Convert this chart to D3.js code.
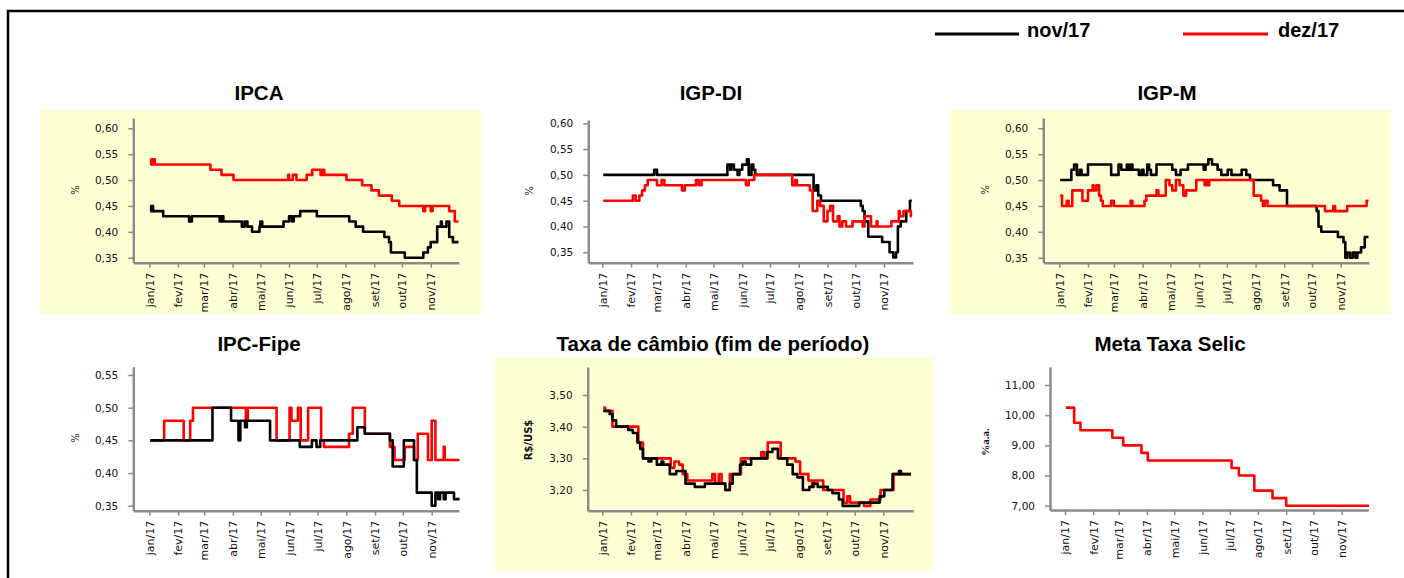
<!DOCTYPE html>
<html><head><meta charset="utf-8">
<script src="https://cdn.jsdelivr.net/npm/d3@7"></script>
<style>
body{margin:0;background:#fff;}
svg{display:block;}
.title{font-family:"Liberation Sans",Arial,sans-serif;font-weight:bold;font-size:20.5px;fill:#000;}
.leg{font-family:"Liberation Sans",Arial,sans-serif;font-weight:bold;font-size:20px;fill:#000;}
.axis text{font-family:"DejaVu Sans",Verdana,sans-serif;fill:#111;}
</style></head><body>
<svg id="c" width="1404" height="578"></svg>
<script>
// ---------------- DATA ----------------
const monthLabels = ["jan/17","fev/17","mar/17","abr/17","mai/17","jun/17","jul/17","ago/17","set/17","out/17","nov/17"];
const seriesNames = ["nov/17","dez/17"];

const ipcaTicks = [0.35,0.40,0.45,0.50,0.55,0.60];
const fipeTicks = [0.35,0.40,0.45,0.50,0.55];
const cambioTicks = [3.20,3.30,3.40,3.50];
const selicTicks = [7,8,9,10,11];

// change points [date (2017), value]
const ipcaNov = [["01-02",0.44],["01-03",0.45],["01-05",0.44],["01-16",0.43],["02-13",0.42],["02-16",0.43],["03-18",0.42],["03-20",0.43],["03-22",0.42],["04-11",0.41],["04-14",0.42],["04-17",0.41],["04-22",0.40],["04-30",0.41],["05-01",0.42],["05-03",0.41],["05-26",0.42],["06-01",0.43],["06-04",0.42],["06-06",0.43],["06-13",0.44],["07-01",0.43],["08-05",0.42],["08-12",0.41],["08-20",0.40],["09-12",0.39],["09-17",0.38],["09-19",0.36],["10-04",0.35],["10-24",0.36],["10-29",0.37],["11-01",0.38],["11-08",0.41],["11-12",0.42],["11-13",0.41],["11-18",0.42],["11-21",0.39],["11-25",0.38],["12-01",0.38]];
const ipcaDez = [["01-02",0.54],["01-03",0.53],["01-05",0.54],["01-07",0.53],["03-08",0.52],["03-20",0.51],["04-02",0.50],["05-31",0.51],["06-01",0.50],["06-05",0.51],["06-09",0.50],["06-20",0.51],["06-26",0.52],["07-05",0.51],["07-07",0.52],["07-09",0.51],["08-02",0.50],["08-19",0.49],["08-29",0.48],["09-06",0.47],["09-20",0.46],["09-28",0.45],["10-24",0.44],["10-26",0.45],["11-01",0.44],["11-03",0.45],["11-21",0.44],["11-27",0.42],["12-01",0.42]];

const igpdiNov = [["01-02",0.50],["02-26",0.51],["03-01",0.50],["05-16",0.52],["05-19",0.51],["05-20",0.52],["05-23",0.51],["05-27",0.50],["05-29",0.51],["06-01",0.52],["06-06",0.53],["06-08",0.50],["06-11",0.52],["06-13",0.51],["06-15",0.50],["08-17",0.47],["08-20",0.48],["08-22",0.46],["08-25",0.45],["10-07",0.44],["10-09",0.43],["10-11",0.41],["10-15",0.38],["10-30",0.37],["11-07",0.35],["11-11",0.34],["11-14",0.35],["11-16",0.40],["11-19",0.41],["11-25",0.43],["11-29",0.45],["12-01",0.45]];
const igpdiDez = [["01-02",0.45],["02-03",0.46],["02-06",0.45],["02-10",0.46],["02-13",0.47],["02-16",0.48],["02-19",0.49],["03-01",0.48],["03-06",0.49],["03-09",0.48],["03-28",0.47],["03-31",0.48],["04-12",0.49],["04-15",0.48],["04-18",0.49],["06-05",0.48],["06-08",0.49],["06-14",0.50],["07-25",0.48],["07-28",0.49],["07-30",0.48],["08-13",0.47],["08-16",0.43],["08-21",0.45],["08-24",0.44],["08-28",0.41],["09-01",0.43],["09-04",0.44],["09-07",0.41],["09-12",0.42],["09-14",0.40],["09-17",0.41],["09-21",0.40],["09-28",0.41],["10-09",0.40],["10-11",0.42],["10-18",0.40],["10-24",0.41],["10-25",0.40],["11-09",0.41],["11-17",0.43],["11-18",0.42],["11-22",0.43],["11-30",0.42],["12-01",0.42]];

const igpmNov = [["01-02",0.50],["01-14",0.52],["01-17",0.53],["01-20",0.51],["01-23",0.52],["01-25",0.51],["02-01",0.53],["02-26",0.51],["03-06",0.53],["03-09",0.52],["03-15",0.53],["03-17",0.52],["03-19",0.53],["03-21",0.52],["03-28",0.51],["03-31",0.52],["04-02",0.51],["04-06",0.53],["04-08",0.52],["04-10",0.51],["04-16",0.53],["05-03",0.52],["05-07",0.51],["05-12",0.52],["05-20",0.53],["06-06",0.52],["06-08",0.53],["06-11",0.54],["06-15",0.53],["06-21",0.52],["06-25",0.51],["07-02",0.52],["07-06",0.51],["07-17",0.52],["07-22",0.51],["07-26",0.50],["08-20",0.49],["08-27",0.48],["09-04",0.45],["10-06",0.44],["10-08",0.41],["10-11",0.40],["10-29",0.39],["11-04",0.38],["11-06",0.35],["11-08",0.36],["11-11",0.35],["11-14",0.36],["11-17",0.35],["11-19",0.36],["11-23",0.37],["11-27",0.39],["12-01",0.39]];
const igpmDez = [["01-02",0.47],["01-04",0.45],["01-09",0.46],["01-11",0.45],["01-15",0.48],["01-26",0.46],["02-01",0.48],["02-06",0.49],["02-07",0.48],["02-10",0.49],["02-13",0.47],["02-15",0.46],["02-17",0.45],["02-26",0.46],["03-01",0.45],["03-19",0.46],["03-21",0.45],["04-03",0.46],["04-05",0.47],["04-16",0.48],["04-18",0.47],["04-26",0.50],["04-30",0.49],["05-03",0.48],["05-07",0.50],["05-11",0.49],["05-15",0.47],["05-18",0.48],["05-29",0.50],["06-07",0.49],["06-09",0.50],["06-10",0.49],["06-12",0.50],["07-30",0.47],["08-07",0.46],["08-09",0.45],["08-11",0.46],["08-14",0.45],["10-15",0.44],["10-24",0.45],["10-26",0.44],["11-08",0.45],["11-29",0.46],["12-01",0.46]];

const fipeNov = [["01-02",0.45],["03-10",0.50],["03-30",0.48],["04-07",0.45],["04-09",0.48],["04-14",0.47],["04-16",0.48],["05-11",0.45],["06-12",0.44],["06-25",0.45],["06-30",0.44],["07-04",0.45],["08-13",0.47],["08-21",0.46],["09-17",0.45],["09-20",0.41],["10-02",0.45],["10-13",0.42],["10-16",0.37],["11-01",0.35],["11-05",0.37],["11-08",0.36],["11-10",0.37],["11-14",0.36],["11-16",0.37],["11-25",0.36],["12-01",0.36]];
const fipeDez = [["01-02",0.45],["01-17",0.48],["02-07",0.45],["02-14",0.48],["02-17",0.50],["04-15",0.48],["04-17",0.50],["05-18",0.45],["06-01",0.50],["06-03",0.48],["06-10",0.50],["06-13",0.45],["06-21",0.50],["07-05",0.45],["07-08",0.44],["08-04",0.46],["08-08",0.50],["08-21",0.46],["09-17",0.44],["09-22",0.42],["10-03",0.44],["10-13",0.42],["10-17",0.46],["10-28",0.42],["11-01",0.48],["11-05",0.42],["11-14",0.44],["11-15",0.42],["12-01",0.42]];

const cambioNov = [["01-02",3.45],["01-09",3.44],["01-12",3.42],["01-16",3.40],["01-29",3.39],["02-03",3.38],["02-08",3.35],["02-11",3.33],["02-14",3.30],["02-20",3.29],["02-23",3.30],["03-01",3.28],["03-06",3.29],["03-08",3.28],["03-15",3.25],["03-22",3.26],["04-01",3.22],["04-11",3.21],["04-22",3.22],["05-14",3.20],["05-19",3.22],["05-22",3.25],["05-30",3.28],["06-02",3.29],["06-05",3.28],["06-11",3.30],["06-28",3.32],["07-04",3.33],["07-10",3.30],["07-20",3.28],["07-26",3.25],["07-31",3.24],["08-06",3.20],["08-13",3.21],["08-17",3.22],["08-22",3.21],["09-02",3.20],["09-07",3.19],["09-14",3.17],["09-18",3.15],["10-06",3.16],["10-28",3.18],["11-02",3.20],["11-11",3.25],["11-18",3.26],["11-20",3.25],["12-01",3.25]];
const cambioDez = [["01-02",3.46],["01-04",3.45],["01-12",3.40],["02-09",3.35],["02-14",3.30],["03-16",3.27],["03-20",3.29],["03-25",3.28],["03-29",3.25],["04-03",3.23],["04-30",3.25],["05-03",3.22],["05-07",3.25],["05-10",3.22],["05-14",3.20],["05-19",3.25],["05-31",3.30],["06-22",3.32],["06-25",3.30],["06-29",3.35],["07-13",3.30],["07-29",3.29],["08-03",3.25],["08-12",3.23],["08-16",3.21],["08-18",3.23],["08-28",3.20],["09-19",3.16],["09-23",3.18],["09-26",3.16],["10-11",3.15],["10-18",3.17],["10-29",3.20],["11-12",3.25],["12-01",3.25]];

const selicDez = [["01-02",10.25],["01-11",9.75],["01-18",9.50],["02-22",9.25],["03-06",9.00],["03-26",8.75],["04-02",8.50],["07-03",8.25],["07-11",8.00],["07-28",7.50],["08-17",7.25],["09-01",7.00],["12-01",7.00]];

// ---------------- LAYOUT ----------------
const colors = {"nov/17":"#000000","dez/17":"#ff0000"};
const panels = [
 {title:"IPCA", tx:259, ty:100, bg:[40,110,441,204], left:133.3, right:459, top:118, bottom:262.7, yRef:[0.35,257.7,0.60,128.3], xRef:[149.3,430.7], ticks:ipcaTicks, yLab:"%", yLabX:75, yLabY:190, yLabFont:"normal 10px 'DejaVu Sans'", series:[["nov/17",ipcaNov],["dez/17",ipcaDez]]},
 {title:"IGP-DI", tx:711, ty:100, bg:null, left:588.3, right:913, top:120, bottom:262.7, yRef:[0.35,252.3,0.60,123.3], xRef:[602.3,884], ticks:ipcaTicks, yLab:"%", yLabX:529, yLabY:191, yLabFont:"normal 10px 'DejaVu Sans'", series:[["nov/17",igpdiNov],["dez/17",igpdiDez]]},
 {title:"IGP-M", tx:1167, ty:100, bg:[950,110,441,204], left:1043.3, right:1369, top:118, bottom:262.7, yRef:[0.35,257.7,0.60,128.3], xRef:[1059.3,1340.7], ticks:ipcaTicks, yLab:"%", yLabX:985, yLabY:190, yLabFont:"normal 10px 'DejaVu Sans'", series:[["nov/17",igpmNov],["dez/17",igpmDez]]},
 {title:"IPC-Fipe", tx:259, ty:351, bg:null, left:133.3, right:459, top:366.7, bottom:510.7, yRef:[0.35,505.7,0.55,375], xRef:[149.3,431.7], ticks:fipeTicks, yLab:"%", yLabX:75, yLabY:438, yLabFont:"normal 10px 'DejaVu Sans'", series:[["dez/17",fipeDez],["nov/17",fipeNov]]},
 {title:"Taxa de câmbio (fim de período)", tx:713, ty:351, bg:[495,358,439,213], left:587.7, right:913.3, top:367, bottom:510.7, yRef:[3.20,490,3.50,395], xRef:[602.3,883.3], ticks:cambioTicks, yLab:"R$/US$", yLabX:528, yLabY:440, yLabFont:"bold 10px 'DejaVu Sans'", series:[["dez/17",cambioDez],["nov/17",cambioNov]]},
 {title:"Meta Taxa Selic", tx:1170, ty:351, bg:null, left:1050, right:1368.3, top:367, bottom:510, yRef:[7,505.7,11,385], xRef:[1065,1341.7], ticks:selicTicks, yLab:"%a.a.", yLabX:985, yLabY:442, yLabFont:"bold 11px 'Liberation Serif'", series:[["dez/17",selicDez]]}
];

// ---------------- DRAW ----------------
const svg = d3.select("#c");
const parse = d3.timeParse("%Y-%m-%d");
const toDate = s => parse("2017-" + s);
const fmt = d3.formatLocale({decimal:",",thousands:".",grouping:[3],currency:["R$",""]}).format(".2f");
const monthDates = d3.timeMonth.range(toDate("01-01"), toDate("11-02"));
const axisColor = "#8a8a8a";

// frame
svg.append("path").attr("d","M8,578V11H1404").attr("fill","none").attr("stroke","#000").attr("stroke-width",2.5);

// legend
const legend = [{name:seriesNames[0], x1:935, x2:1019, tx:1027},{name:seriesNames[1], x1:1183, x2:1268, tx:1278}];
legend.forEach(l=>{
  svg.append("line").attr("x1",l.x1).attr("x2",l.x2).attr("y1",34).attr("y2",34)
     .attr("stroke",colors[l.name]).attr("stroke-width",2.8);
  svg.append("text").attr("class","leg").attr("x",l.tx).attr("y",37).text(l.name);
});

panels.forEach(p=>{
  if(p.bg) svg.append("rect").attr("x",p.bg[0]).attr("y",p.bg[1]).attr("width",p.bg[2]).attr("height",p.bg[3]).attr("fill","#ffffd4");
  svg.append("text").attr("class","title").attr("x",p.tx).attr("y",p.ty).attr("text-anchor","middle").text(p.title);

  const y = d3.scaleLinear().domain([p.yRef[0],p.yRef[2]]).range([p.yRef[1],p.yRef[3]]);
  y.domain([y.invert(p.bottom), y.invert(p.top)]).range([p.bottom,p.top]);
  const x = d3.scaleTime().domain([toDate("01-01"), toDate("11-01")]).range(p.xRef);
  x.domain([x.invert(p.left), x.invert(p.right)]).range([p.left,p.right]);

  // series
  const line = d3.line().x(d=>x(toDate(d[0]))).y(d=>y(d[1])).curve(d3.curveStepAfter);
  p.series.forEach(([name,data])=>{
    svg.append("path").datum(data).attr("d",line).attr("fill","none")
      .attr("stroke",colors[name]).attr("stroke-width",2.6).attr("stroke-linejoin","round");
  });

  // y axis
  const ya = svg.append("g").attr("class","axis").attr("transform",`translate(${p.left},0)`)
    .call(d3.axisLeft(y).tickValues(p.ticks).tickFormat(fmt).tickSize(5).tickSizeOuter(0).tickPadding(10));
  ya.selectAll("text").attr("font-size",10.5);
  // x axis
  const xa = svg.append("g").attr("class","axis").attr("transform",`translate(0,${p.bottom})`)
    .call(d3.axisBottom(x).tickValues(monthDates).tickFormat((d,i)=>monthLabels[i]).tickSize(5).tickSizeOuter(0).tickPadding(5));
  xa.selectAll("text").attr("font-size",11).attr("transform","rotate(-90)")
    .attr("text-anchor","end").attr("x",-10).attr("y",0).attr("dy","0.35em");
  [ya,xa].forEach(a=>{
    a.select(".domain").attr("stroke",axisColor).attr("stroke-width",2.4);
    a.selectAll(".tick line").attr("stroke",axisColor).attr("stroke-width",1.5);
  });

  svg.append("text").attr("transform",`translate(${p.yLabX},${p.yLabY}) rotate(-90)`)
    .attr("text-anchor","middle").attr("dy","0.35em").style("font",p.yLabFont).attr("fill","#111").text(p.yLab);
});
</script>
</body></html>
